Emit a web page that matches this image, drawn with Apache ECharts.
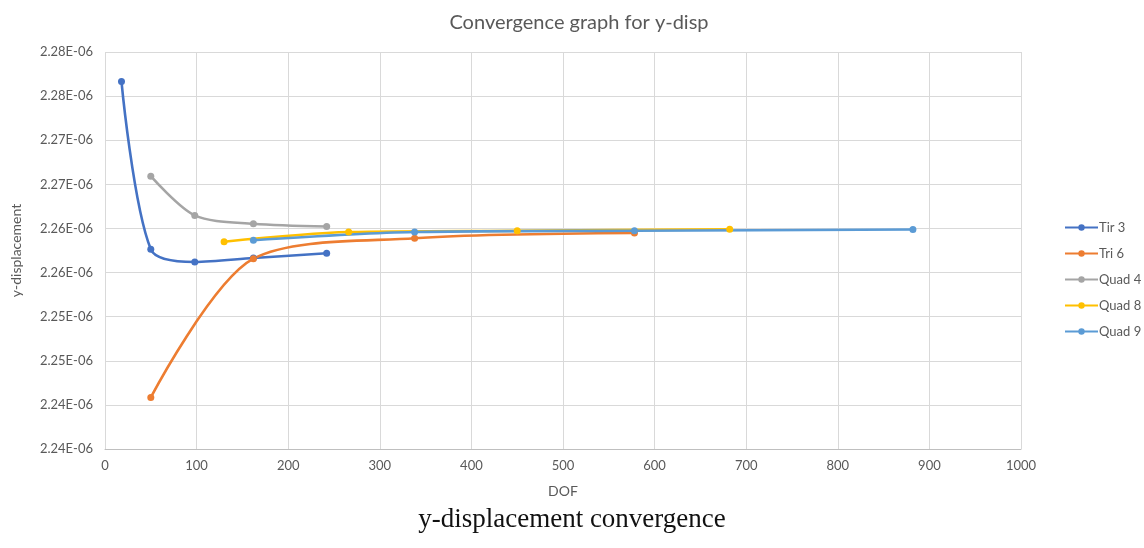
<!DOCTYPE html>
<html><head><meta charset="utf-8">
<script src="https://cdn.jsdelivr.net/npm/echarts@6/dist/echarts.min.js"></script>
<style>html,body{margin:0;padding:0;background:#fff}#c{width:1144px;height:548px}</style>
</head><body><div id="c"></div>
<script>
// DOF values and y-displacement values (in units of 1E-06)
const seriesNames = ['Tir 3', 'Tri 6', 'Quad 4', 'Quad 8', 'Quad 9'];
const tir3DOF = [18, 50, 98, 162, 242];
const tir3Disp = [2.27665, 2.25764, 2.25620, 2.25665, 2.25718];
const tri6DOF = [50, 162, 338, 578];
const tri6Disp = [2.24084, 2.25657, 2.25888, 2.25948];
const quad4DOF = [50, 98, 162, 242];
const quad4Disp = [2.26593, 2.26148, 2.26053, 2.26022];
const quad8DOF = [130, 266, 450, 682];
const quad8Disp = [2.25850, 2.25959, 2.25974, 2.25990];
const quad9DOF = [162, 338, 578, 882];
const quad9Disp = [2.25867, 2.25959, 2.25974, 2.25988];
const yTickLabels = ['2.24E-06','2.24E-06','2.25E-06','2.25E-06','2.26E-06','2.26E-06','2.27E-06','2.27E-06','2.28E-06','2.28E-06'];
const xTickLabels = ['0','100','200','300','400','500','600','700','800','900','1000'];

const colors = ['#4472C4', '#ED7D31', '#A5A5A5', '#FFC000', '#5B9BD5'];
const xs = [tir3DOF, tri6DOF, quad4DOF, quad8DOF, quad9DOF];
const ys = [tir3Disp, tri6Disp, quad4Disp, quad8Disp, quad9Disp];
const yMin = 2.235, yMax = 2.28, yStep = 0.005;
const FONT = 'Lato';

const chart = echarts.init(document.getElementById('c'), null, {renderer: 'canvas'});
chart.setOption({
  animation: false,
  backgroundColor: '#fff',
  color: colors,
  title: {
    text: 'Convergence graph for y-disp',
    left: 574, top: 8, textAlign: 'center',
    textStyle: {fontFamily: FONT, fontSize: 20, fontWeight: 'normal', color: '#595959'}
  },
  grid: {left: 105, right: 123, top: 52, bottom: 99, containLabel: false},
  legend: {
    orient: 'vertical', left: 1059, top: 216,
    itemWidth: 33, itemHeight: 8, itemGap: 13,
    textStyle: {fontFamily: FONT, fontSize: 13, color: '#595959', padding: [0, 0, 0, -4]},
    data: seriesNames
  },
  xAxis: {
    type: 'value', min: 0, max: 1000, interval: 100,
    name: 'DOF', nameLocation: 'middle', nameGap: 35,
    nameTextStyle: {fontFamily: FONT, fontSize: 14, color: '#595959'},
    axisLine: {show: true, lineStyle: {color: '#BFBFBF', width: 1}},
    axisTick: {show: false},
    axisLabel: {fontFamily: FONT, fontSize: 13, color: '#595959', margin: 10,
      formatter: (v) => xTickLabels[Math.round(v / 100)]},
    splitLine: {show: true, lineStyle: {color: '#D9D9D9', width: 1}}
  },
  yAxis: {
    type: 'value', min: yMin, max: yMax, interval: yStep,
    name: 'y-displacement', nameLocation: 'middle', nameRotate: 90, nameGap: 82,
    nameTextStyle: {fontFamily: FONT, fontSize: 14, color: '#595959'},
    axisLine: {show: false},
    axisTick: {show: false},
    axisLabel: {fontFamily: FONT, fontSize: 13, color: '#595959', margin: 12,
      formatter: (v) => yTickLabels[Math.round((v - yMin) / yStep)]},
    splitLine: {show: true, lineStyle: {color: '#D9D9D9', width: 1}}
  },
  series: seriesNames.map((n, i) => ({
    name: n, type: 'line', smooth: 0.3,
    symbol: 'circle', symbolSize: 7,
    lineStyle: {width: 2.6, color: colors[i]},
    itemStyle: {color: colors[i]},
    data: xs[i].map((x, j) => [x, ys[i][j]])
  })),
  graphic: [{
    type: 'text', left: 'center', top: 506,
    style: {text: 'y-displacement convergence', font: '27px "Liberation Serif", "DejaVu Serif", serif', fill: '#111'}
  }]
});
</script></body></html>
